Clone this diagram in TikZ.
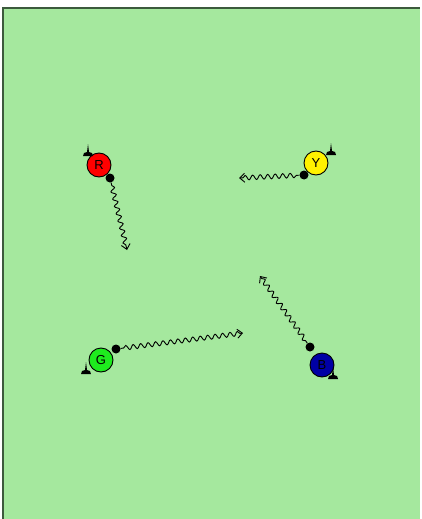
\documentclass[tikz,border=0pt]{standalone}
\usepackage{fontspec}
\setmainfont{Liberation Sans}
\usetikzlibrary{decorations.pathmorphing,arrows.meta}
\definecolor{field}{RGB}{165,232,158}
\definecolor{fieldedge}{RGB}{60,90,60}
\definecolor{pgreen}{RGB}{30,235,30}
\definecolor{pblue}{RGB}{0,0,165}
\begin{document}
\begin{tikzpicture}[x=1pt,y=-1pt,
  player/.style={circle,draw=black,line width=0.9pt,minimum size=24pt,inner sep=0pt,font=\fontsize{13}{13}\selectfont},
  ball/.style={circle,fill=black,minimum size=9pt,inner sep=0pt},
  run/.style={line width=0.9pt,decorate,decoration={snake,amplitude=2.3pt,segment length=7.5pt,pre length=3pt,post length=3pt},-{Straight Barb[length=5pt,width=9pt,line width=0.9pt]}},
  cone/.style={fill=black}]
\useasboundingbox (0,0) rectangle (421,519);
\fill[field] (3,8) rectangle (420,519);
\draw[fieldedge,line width=1.2pt] (3,519) -- (3,8) -- (420,8);
% players
\node[player,fill=red] (R) at (99,165) {R};
\node[player,fill=yellow] (Y) at (316,163) {Y};
\node[player,fill=pgreen] (G) at (101,360) {G};
\node[player,fill=pblue] (B) at (322,365) {B};
% balls
\node[ball] (bR) at (110,178) {};
\node[ball] (bY) at (304,175) {};
\node[ball] (bG) at (116,349) {};
\node[ball] (bB) at (310,347) {};
% cones
\fill[cone] (83,156) -- (84,153) -- (87,152) -- (88,144) -- (89,152) -- (92,153) -- (93,156) -- cycle;
\fill[cone] (326,155) -- (327,152) -- (330,151) -- (331,143) -- (332,151) -- (335,152) -- (336,155) -- cycle;
\fill[cone] (81,374) -- (82,371) -- (85,370) -- (86,362) -- (87,370) -- (90,371) -- (91,374) -- cycle;
\fill[cone] (328,379) -- (329,376) -- (332,375) -- (333,367) -- (334,375) -- (337,376) -- (338,379) -- cycle;
% targets
\coordinate (tR) at (127,250);
\coordinate (tY) at (239,178);
\coordinate (tG) at (243,333);
\coordinate (tB) at (260,276);
\draw[run] (bR) -- (tR);
\draw[run] (bY) -- (tY);
\draw[run] (bG) -- (tG);
\draw[run] (bB) -- (tB);
\end{tikzpicture}
\end{document}
